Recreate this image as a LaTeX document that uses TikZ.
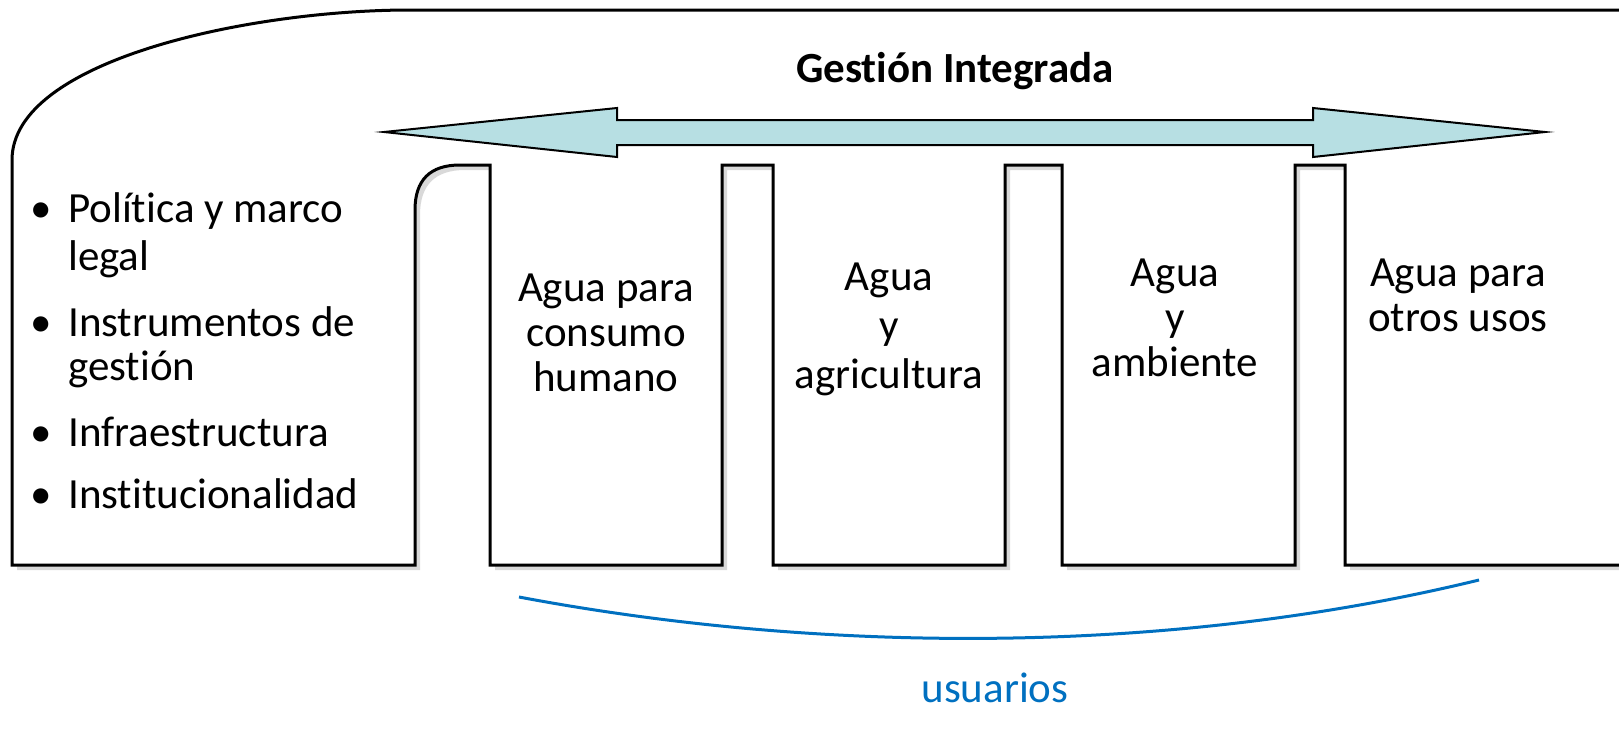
\documentclass[tikz,border=0pt]{standalone}
\usepackage{fontspec}
\setmainfont{Carlito}[Ligatures=NoCommon]
\definecolor{arrowfill}{HTML}{B7DFE3}
\definecolor{shadowgray}{HTML}{D9D9D9}
\definecolor{userblue}{HTML}{0070C0}
\tikzset{
  txt/.style={anchor=base, inner sep=0pt, font=\fontsize{43}{48}\selectfont},
  lefttxt/.style={txt, anchor=base west},
  outline/.style={draw=black, line width=3pt, fill=white, line join=miter},
  shadowfill/.style={fill=shadowgray, draw=none},
  bigarrow/.style={draw=black, line width=2pt, fill=arrowfill, line join=miter},
  curve/.style={draw=userblue, line width=3pt}
}
\newcommand{\outlinepath}{(12,565) -- (415,565) -- (415,210)
  .. controls (415,180) and (430,165) .. (460,165) -- (490,165) -- (490,565)
  -- (722,565) -- (722,165) -- (773,165) -- (773,565)
  -- (1005,565) -- (1005,165) -- (1062,165) -- (1062,565)
  -- (1295,565) -- (1295,165) -- (1345,165) -- (1345,565)
  -- (1660,565) -- (1660,10) -- (410,10)
  .. controls (250,10) and (12,60) .. (12,160) -- cycle}
\begin{document}
\begin{tikzpicture}[x=1pt,y=-1pt]
\useasboundingbox (0,0) rectangle (1619,729);
\clip (0,0) rectangle (1619,729);
\fill[white] (0,0) rectangle (1619,729);
% shadow and outline
\begin{scope}[shift={(5,5)}]
  \path[shadowfill] \outlinepath;
\end{scope}
\path[outline] \outlinepath;
% double arrow
\path[bigarrow] (384,132) -- (617,108) -- (617,120) -- (1313,120) -- (1313,108)
  -- (1545,132) -- (1313,157) -- (1313,145) -- (617,145) -- (617,157) -- cycle;
% title
\node[txt, font=\fontsize{43}{48}\selectfont\bfseries] (title) at (955,82) {Gestión Integrada};
% bullets
\node[txt] (b1) at (41,222) {•};
\node[lefttxt] (i1a) at (68,222) {Política y marco};
\node[lefttxt] (i1b) at (68,270) {legal};
\node[txt] (b2) at (41,336) {•};
\node[lefttxt] (i2a) at (68,336) {Instrumentos de};
\node[lefttxt] (i2b) at (68,380) {gestión};
\node[txt] (b3) at (41,446) {•};
\node[lefttxt] (i3) at (68,446) {Infraestructura};
\node[txt] (b4) at (41,508) {•};
\node[lefttxt] (i4) at (68,508) {Institucionalidad};
% block labels
\node[txt] (c1a) at (606,301) {Agua para};
\node[txt] (c1b) at (606,346) {consumo};
\node[txt] (c1c) at (606,391) {humano};
\node[txt] (c2a) at (889,290) {Agua};
\node[txt] (c2b) at (889,339) {y};
\node[txt] (c2c) at (889,388) {agricultura};
\node[txt] (c3a) at (1175,286) {Agua};
\node[txt] (c3b) at (1175,331) {y};
\node[txt] (c3c) at (1175,376) {ambiente};
\node[txt] (c4a) at (1458,286) {Agua para};
\node[txt] (c4b) at (1458,331) {otros usos};
% users brace
\coordinate (u1) at (519,597);
\coordinate (u2) at (1479,580);
\draw[curve] (u1) .. controls (800,650) and (1150,660) .. (u2);
\node[txt, text=userblue] (users) at (995,702) {usuarios};
\end{tikzpicture}
\end{document}
